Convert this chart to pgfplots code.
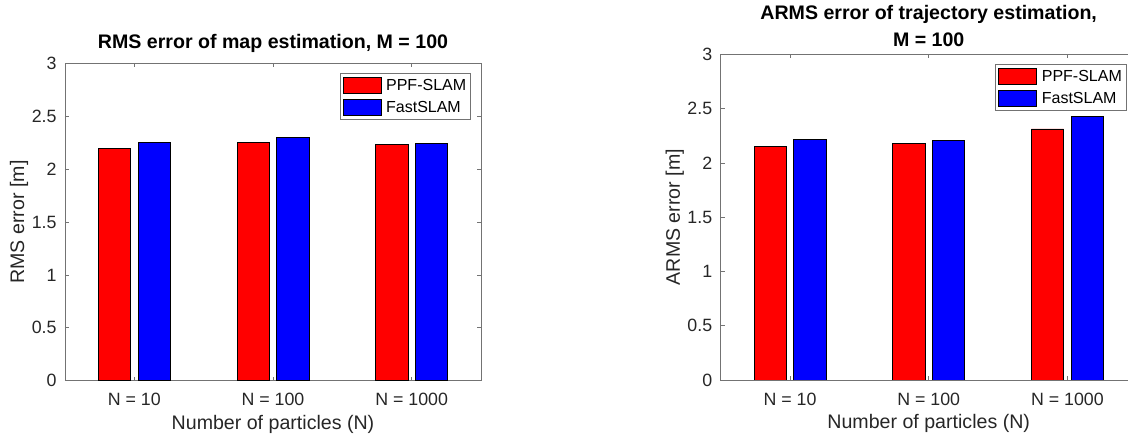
\documentclass[border=0pt]{standalone}
\usepackage{fontspec}
\setmainfont{Liberation Sans}
\usepackage{pgfplots}
\pgfplotsset{compat=1.18}

\definecolor{axgray}{gray}{0.45}
\definecolor{txtgray}{gray}{0.15}

% Shared look of both bar panels (1pt = 1 output pixel)
\pgfplotsset{
  slamaxis/.style={
    scale only axis,
    width=416pt,
    xmin=0.5, xmax=3.5, ymin=0, ymax=3,
    xtick={1,2,3}, xticklabels={N = 10, N = 100, N = 1000},
    ytick={0,0.5,1,1.5,2,2.5,3}, yticklabels={0,0.5,1,1.5,2,2.5,3},
    tick align=inside, major tick length=4pt,
    axis line style={axgray, line width=0.7pt},
    every tick/.style={axgray, line width=0.7pt},
    /pgf/number format/assume math mode=true,
    ticklabel style={font=\fontsize{17.8}{20}\selectfont, text=txtgray, inner sep=0pt},
    xticklabel style={anchor=base, yshift=-25.3pt},
    yticklabel style={anchor=east, xshift=-8.3pt},
    every axis x label/.style={at={([yshift=-48.6pt]axis description cs:0.5,0)}, anchor=base,
      inner sep=0pt, font=\fontsize{19.6}{22}\selectfont, text=txtgray},
    every axis y label/.style={at={([xshift=-46pt]axis description cs:0,0.5)}, rotate=90,
      anchor=center, inner sep=0pt, font=\fontsize{19.6}{22}\selectfont, text=txtgray},
    title style={font=\bfseries\fontsize{19.6}{24}\selectfont, inner sep=0pt, align=center},
    legend style={at={([xshift=-10pt,yshift=-10pt]axis description cs:1,1)}, anchor=north east,
      draw=axgray, line width=0.7pt, inner xsep=2.5pt, inner ysep=3.5pt, row sep=5.4pt,
      column sep=3pt,
      font=\fontsize{16}{18}\selectfont, text=black, cells={anchor=west}},
    legend cell align=left,
  },
  ppf/.style={ybar, bar width=0.233, bar shift=-0.143, fill=red, draw=black, line width=0.6pt,
    legend image code/.code={\draw[fill=red, draw=black, line width=0.6pt] (0pt,-8pt) rectangle (38pt,8pt);}},
  fast/.style={ybar, bar width=0.233, bar shift=0.143, fill=blue, draw=black, line width=0.6pt,
    legend image code/.code={\draw[fill=blue, draw=black, line width=0.6pt] (0pt,-8pt) rectangle (38pt,8pt);}},
}

% RMS error of the map estimate
\pgfplotstableread{
n  ppf    fast
1  2.197  2.253
2  2.253  2.297
3  2.234  2.241
}\maptable

% ARMS error of the trajectory estimate
\pgfplotstableread{
n  ppf    fast
1  2.149  2.217
2  2.177  2.204
3  2.312  2.429
}\trajtable

\begin{document}
\begin{tikzpicture}[x=1pt,y=1pt]
\useasboundingbox (0,0) rectangle (1128,441);
\clip (0,0) rectangle (1128,441);

\begin{axis}[slamaxis, height=317.4pt,
  at={(65pt,60.3pt)}, anchor=south west,
  title={RMS error of map estimation, M = 100},
  title style={at={([yshift=8.3pt]axis description cs:0.5,1)}, anchor=base},
  xlabel={Number of particles (N)},
  ylabel={RMS error [m]}]
\addplot[ppf] table[x=n, y=ppf] {\maptable};
\addlegendentry{PPF-SLAM}
\addplot[fast] table[x=n, y=fast] {\maptable};
\addlegendentry{FastSLAM}
\end{axis}

\begin{axis}[slamaxis, height=325.7pt,
  at={(720.7pt,61pt)}, anchor=south west,
  title={ARMS error of trajectory estimation,\\[3pt]M = 100},
  title style={at={([yshift=1pt]axis description cs:0.5,1)}, anchor=south},
  xlabel={Number of particles (N)},
  ylabel={ARMS error [m]}]
\addplot[ppf] table[x=n, y=ppf] {\trajtable};
\addlegendentry{PPF-SLAM}
\addplot[fast] table[x=n, y=fast] {\trajtable};
\addlegendentry{FastSLAM}
\end{axis}
\end{tikzpicture}
\end{document}
